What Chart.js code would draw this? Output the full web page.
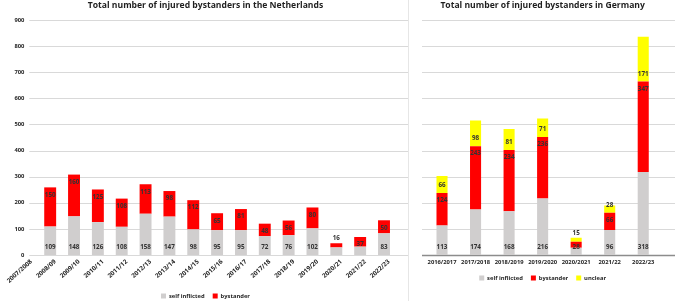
<!DOCTYPE html>
<html>
<head>
<meta charset="utf-8">
<script src="https://cdn.jsdelivr.net/npm/chart.js@4.4.0/dist/chart.umd.min.js"></script>
<style>
  html, body { margin: 0; padding: 0; background: #fff; }
  body { width: 677px; height: 301px; overflow: hidden; position: relative; }
  #nl { position: absolute; left: 0; top: 0; width: 408px; height: 310px; }
  #de { position: absolute; left: 410px; top: 0; width: 267px; height: 301px; }
  #divider { position: absolute; left: 408px; top: 0; width: 1px; height: 301px; background: #e6e6e6; }
</style>
</head>
<body>
<div id="nl"><canvas id="nlChart"></canvas></div>
<div id="divider"></div>
<div id="de"><canvas id="deChart"></canvas></div>
<script>
(() => {
  'use strict'

  // Netherlands
  const nlSeasons = ['2007/2008', '2008/09', '2009/10', '2010/11', '2011/12', '2012/13', '2013/14', '2014/15',
    '2015/16', '2016/17', '2017/18', '2018/19', '2019/20', '2020/21', '2021/22', '2022/23'];
  const nlSelfInflicted = [null, 109, 148, 126, 108, 158, 147, 98, 95, 95, 72, 76, 102, 29, 32, 83];
  const nlBystander = [null, 150, 160, 125, 108, 113, 98, 112, 65, 81, 48, 56, 80, 16, 37, 50];

  // Germany
  const deSeasons = ['2016/2017', '2017/2018', '2018/2019', '2019/2020', '2020/2021', '2021/22', '2022/23'];
  const deSelfInflicted = [113, 174, 168, 216, 28, 96, 318];
  const deBystander = [124, 243, 234, 236, 23, 66, 347];
  const deUnclear = [66, 98, 81, 71, 15, 28, 171];

  // y axis: 0..900 in steps of 100
  const yMax = 900;
  const yStep = 100;

  const GRAY = '#d0cece';
  const RED = '#ff0000';
  const YELLOW = '#ffff00';
  const TEXT = '#1f1f1f';
  const FONT = '"Open Sans"';

  Chart.defaults.font.family = FONT;

  // horizontal gridlines, drawn by hand so they can run past the category area like in Excel
  const gridLines = {
    id: 'gridLines',
    beforeDatasetsDraw(chart, args, opts) {
      const { ctx, chartArea, scales: { y } } = chart;
      ctx.save();
      y.ticks.forEach(t => {
        const base = t.value === 0 && opts.baseColor;
        const py = Math.round(y.getPixelForValue(t.value)) + 0.5;
        ctx.strokeStyle = base ? opts.baseColor : opts.color;
        ctx.lineWidth = base ? opts.baseWidth : 1;
        ctx.beginPath();
        ctx.moveTo(chartArea.left - opts.extendLeft, py);
        ctx.lineTo(chartArea.right + opts.extendRight, py);
        ctx.stroke();
      });
      ctx.restore();
    }
  };

  // value labels: base of segment for gray/yellow, top end for red
  const barLabels = {
    id: 'barLabels',
    afterDatasetsDraw(chart, args, opts) {
      const { ctx } = chart;
      const sets = chart.data.datasets;
      ctx.save();
      ctx.font = `bold ${opts.size}px ${FONT}`;
      ctx.textAlign = 'center';
      ctx.textBaseline = 'middle';
      ctx.fillStyle = opts.color;
      sets.forEach((ds, di) => {
        chart.getDatasetMeta(di).data.forEach((bar, i) => {
          const v = ds.data[i];
          if (!v) return;
          const top = Math.min(bar.y, bar.base);
          const bottom = Math.max(bar.y, bar.base);
          const h = bottom - top;
          const isTop = sets.slice(di + 1).every(o => !o.data[i]);
          let ty;
          if (isTop && h < 6) ty = top - 5;
          else if (h < opts.minHeight) return;
          else ty = ds.labelAnchor === 'end' ? top + 7.5 : bottom - 7.5;
          ctx.fillText(String(v), bar.x, ty);
        });
      });
      ctx.restore();
    }
  };

  const titleOpts = (text) => ({
    display: true,
    text: text,
    color: TEXT,
    font: { size: 8.6, weight: 'bold' },
    padding: { top: 0.5, bottom: 9.2 }
  });

  const legendOpts = {
    position: 'bottom',
    labels: { boxWidth: 5, boxHeight: 5, padding: 8, color: TEXT, font: { size: 5.8, weight: 'bold' } }
  };

  new Chart(document.getElementById('nlChart'), {
    type: 'bar',
    data: {
      labels: nlSeasons,
      datasets: [
        { label: 'self inflicted', data: nlSelfInflicted, backgroundColor: GRAY, labelAnchor: 'base' },
        { label: 'bystander', data: nlBystander, backgroundColor: RED, labelAnchor: 'end' }
      ]
    },
    options: {
      responsive: true,
      maintainAspectRatio: false,
      animation: false,
      datasets: { bar: { categoryPercentage: 1, barPercentage: 0.5, clip: false } },
      layout: { padding: { left: 3, right: 0, top: 0, bottom: 1.1 } },
      scales: {
        x: {
          stacked: true,
          offset: false,
          grid: { display: false, drawTicks: false },
          border: { display: false },
          ticks: { autoSkip: false, minRotation: 42, maxRotation: 42, padding: 3, labelOffset: 5,
            color: TEXT, font: { size: 6.3, weight: 'bold' } },
          afterFit: (s) => { s.height = 30.1; }
        },
        y: {
          stacked: true,
          min: 0,
          max: yMax,
          grid: { display: false, drawTicks: false },
          border: { display: false },
          ticks: { stepSize: yStep, padding: 2, color: TEXT, font: { size: 5.8, weight: 'bold' } },
          afterFit: (s) => { s.width = 16; }
        },
        // empty strip on the right, the last season sits short of the plot edge
        yPad: {
          position: 'right',
          grid: { display: false, drawTicks: false },
          border: { display: false },
          ticks: { display: false },
          afterFit: (s) => { s.width = 24; }
        }
      },
      plugins: {
        title: titleOpts('Total number of injured bystanders in the Netherlands'),
        legend: legendOpts,
        tooltip: { enabled: false },
        gridLines: { color: '#d9d9d9', extendLeft: -3, extendRight: 24 },
        barLabels: { size: 6.3, color: '#333333', minHeight: 8.5 }
      }
    },
    plugins: [gridLines, barLabels]
  });

  new Chart(document.getElementById('deChart'), {
    type: 'bar',
    data: {
      labels: deSeasons,
      datasets: [
        { label: 'self inflicted', data: deSelfInflicted, backgroundColor: GRAY, labelAnchor: 'base' },
        { label: 'bystander', data: deBystander, backgroundColor: RED, labelAnchor: 'end' },
        { label: 'unclear', data: deUnclear, backgroundColor: YELLOW, labelAnchor: 'base' }
      ]
    },
    options: {
      responsive: true,
      maintainAspectRatio: false,
      animation: false,
      datasets: { bar: { categoryPercentage: 1, barPercentage: 0.33 } },
      layout: { padding: { left: 15.25, right: 17, top: 0, bottom: 10.1 } },
      scales: {
        x: {
          stacked: true,
          grid: { display: false, drawTicks: false },
          border: { display: false },
          ticks: { autoSkip: false, minRotation: 0, maxRotation: 0, padding: 3.5, color: TEXT, font: { size: 5.8, weight: 'bold' } },
          afterFit: (s) => { s.height = 12.1; }
        },
        y: {
          stacked: true,
          min: 0,
          max: yMax,
          grid: { display: false, drawTicks: false },
          border: { display: false },
          ticks: { display: false, stepSize: yStep },
          afterFit: (s) => { s.width = 0; }
        }
      },
      plugins: {
        title: titleOpts('Total number of injured bystanders in Germany'),
        legend: legendOpts,
        tooltip: { enabled: false },
        gridLines: { color: '#d9d9d9', extendLeft: 3.25, extendRight: 15, baseColor: '#8c8c8c', baseWidth: 1.5 },
        barLabels: { size: 6.3, color: '#333333', minHeight: 7 }
      }
    },
    plugins: [gridLines, barLabels]
  });
})()
</script>
</body>
</html>
